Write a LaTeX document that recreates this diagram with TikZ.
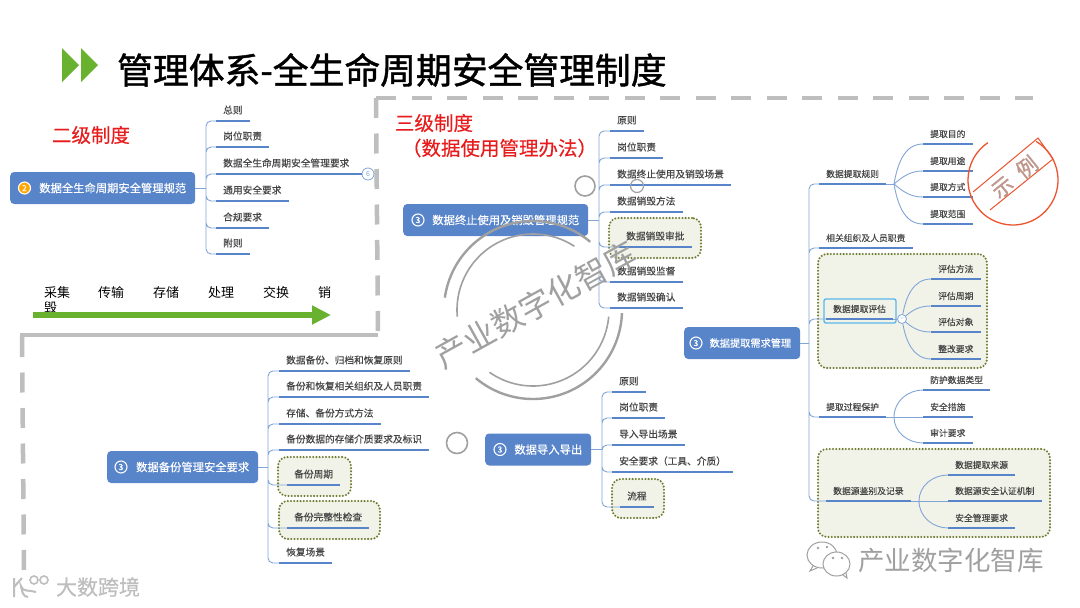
\documentclass[tikz,border=0pt]{standalone}
\usepackage{fontspec}
\setmainfont{Noto Sans CJK SC}
\newfontfamily\titlefont[FakeBold=1.2]{Noto Sans CJK SC}
\newfontfamily\labelfont[FakeBold=0.3]{Noto Sans CJK SC}
\usetikzlibrary{arrows.meta}
\definecolor{nodeblue}{RGB}{88,132,202}
\definecolor{linkblue}{RGB}{130,165,215}
\definecolor{leafgray}{RGB}{70,70,70}
\definecolor{framegray}{RGB}{190,190,190}
\definecolor{markgray}{RGB}{160,160,160}
\definecolor{arrowgreen}{RGB}{104,178,48}
\definecolor{titlered}{RGB}{232,28,28}
\definecolor{stampred}{RGB}{236,84,48}
\definecolor{stampgray}{RGB}{190,150,140}
\definecolor{boxfill}{RGB}{241,243,232}
\definecolor{boxdot}{RGB}{112,124,50}
\definecolor{pickcyan}{RGB}{90,185,235}
\tikzset{
  rootbox/.style={anchor=west, fill=nodeblue, rounded corners=4pt, text=white, align=right, inner xsep=9pt,
    minimum height=32pt, font=\labelfont\fontsize{11.3}{12}\selectfont},
  badge/.style={circle, draw=white, line width=1.1pt, inner sep=0pt, minimum size=12pt, text=white,
    font=\labelfont\fontsize{8.5}{8.5}\selectfont},
  uline/.style={draw=nodeblue, line width=1.9pt},
  leaf/.style={anchor=south west, inner xsep=7pt, inner ysep=5.6pt, text height=8.5pt, text depth=1.5pt,
    text=leafgray, font=\labelfont\fontsize{9.7}{10}\selectfont,
    append after command={(\tikzlastnode.south west) edge[uline] (\tikzlastnode.south east)}},
  subleaf/.style={leaf, inner ysep=5pt, font=\labelfont\fontsize{8.8}{10}\selectfont},
  conn/.style={draw=linkblue, line width=0.9pt},
  trunk/.style={conn, rounded corners=5pt},
  dotbox/.style={draw=boxdot, fill=boxfill, line width=2.3pt, line cap=round, dash pattern=on 0pt off 3.2pt,
    rounded corners=9pt, inner sep=0pt},
  dashframe/.style={draw=framegray, line width=4.5pt, dash pattern=on 20pt off 15.5pt},
  steplabel/.style={text=black, font=\fontsize{13}{14}\selectfont},
  redlabel/.style={text=titlered, font=\labelfont\fontsize{19.5}{20}\selectfont},
  ring/.style={draw=markgray, line width=1.6pt}
}
\begin{document}
\begin{tikzpicture}[x=1pt, y=-1pt]
    \useasboundingbox[fill=white] (0,0) rectangle (1080,608);

    % title
    \fill[arrowgreen] (62,48) -- (79,65) -- (62,82) -- cycle;
    \fill[arrowgreen] (81,48) -- (98,65) -- (81,82) -- cycle;
    \node[anchor=west, inner sep=0pt, font=\titlefont\fontsize{35.8}{36}\selectfont] (title) at (117,70) {管理体系-全生命周期安全管理制度};

    % frame
    \draw[dashframe] (376,98) -- (1033,98);
    \draw[dashframe] (376,98) -- (378,335);
    \draw[draw=framegray, line width=4.5pt] (378,335) -- (20,335);
    \draw[dashframe] (22,337) -- (24,570);

    \node[redlabel] (level2) at (91,135) {二级制度};
    \node[redlabel] (level3) at (434,123) {三级制度};
    \node[redlabel] (level3b) at (499.5,148) {（数据使用管理办法）};

    % second level
    \node[rootbox, text width=167pt] (spec) at (10,188) {数据全生命周期安全管理规范};
    \node[badge, fill=orange!70!yellow] (specN) at (24.5,188) {2};
    \coordinate (specJ) at (206,188);
    \node[leaf] (specA) at (216,121) {总则};
    \node[leaf] (specB) at (216,147) {岗位职责};
    \node[leaf] (specC) at (216,174) {数据全生命周期安全管理要求};
    \node[leaf] (specD) at (216,201) {通用安全要求};
    \node[leaf] (specE) at (216,228) {合规要求};
    \node[leaf] (specF) at (216,254) {附则};
    \draw[conn] (spec.east) -- (specJ);
    \draw[trunk] (specJ) |- (specA.south west) (specJ) |- (specB.south west) (specJ) |- (specC.south west)
        (specJ) |- (specD.south west) (specJ) |- (specE.south west) (specJ) |- (specF.south west);
    \node[circle, draw=linkblue, fill=white, line width=0.8pt, inner sep=0pt, minimum size=12pt, text=linkblue,
        font=\fontsize{7}{8}\selectfont] (specMore) at (368,174) {6};
    \draw[uline] (specC.south east) -- (specMore);

    % life cycle arrow
    \node[steplabel] (stepA) at (57,293) {采集};
    \node[steplabel] (stepB) at (111,293) {传输};
    \node[steplabel] (stepC) at (166,293) {存储};
    \node[steplabel] (stepD) at (221,293) {处理};
    \node[steplabel] (stepE) at (276,293) {交换};
    \node[steplabel] (stepF) at (324.5,293) {销};
    \node[steplabel] (stepG) at (50.5,308) {毁};
    \coordinate (lifeS) at (33,315);
    \coordinate (lifeE) at (331,315);
    \draw[draw=arrowgreen, line width=6pt, -{Triangle[length=19pt,width=18pt]}] (lifeS) -- (lifeE);

    % stop using
    \node[dotbox, minimum width=92pt, minimum height=40pt] (stopBox) at (655,238) {};
    \node[rootbox, text width=167pt] (stop) at (403,220) {数据终止使用及销毁管理规范};
    \node[badge] (stopN) at (418,220) {3};
    \coordinate (stopJ) at (599,220);
    \node[leaf] (stopA) at (610,131) {原则};
    \node[leaf] (stopB) at (610,158) {岗位职责};
    \node[leaf] (stopC) at (610,185) {数据终止使用及销毁场景};
    \node[leaf] (stopD) at (610,212) {数据销毁方法};
    \node[leaf] (stopE) at (619,247) {数据销毁审批};
    \node[leaf] (stopF) at (610,282) {数据销毁监督};
    \node[leaf] (stopG) at (610,308) {数据销毁确认};
    \draw[conn] (stop.east) -- (stopJ);
    \draw[trunk] (stopJ) |- (stopA.south west) (stopJ) |- (stopB.south west) (stopJ) |- (stopC.south west)
        (stopJ) |- (stopD.south west) (stopJ) |- (stopE.south west) (stopJ) |- (stopF.south west) (stopJ) |- (stopG.south west);
    \node[circle, ring, minimum size=20pt, inner sep=0pt] (stopO) at (585,186) {};
    \node[circle, ring, line width=1.2pt, minimum size=13pt, inner sep=0pt] (stopP) at (637,186) {};

    % backup
    \node[dotbox, minimum width=73pt, minimum height=39pt] (backBoxA) at (314.5,476.5) {};
    \node[dotbox, minimum width=101pt, minimum height=38pt] (backBoxB) at (329.5,520) {};
    \node[rootbox, text width=133pt] (back) at (107,467) {数据备份管理安全要求};
    \node[badge] (backN) at (121,467) {3};
    \coordinate (backJ) at (268,467);
    \node[leaf] (backA) at (279,371) {数据备份、归档和恢复原则};
    \node[leaf] (backB) at (279,397) {备份和恢复相关组织及人员职责};
    \node[leaf] (backC) at (279,424) {存储、备份方式方法};
    \node[leaf] (backD) at (279,450) {备份数据的存储介质要求及标识};
    \node[leaf] (backE) at (287,485) {备份周期};
    \node[leaf] (backF) at (287,528) {备份完整性检查};
    \node[leaf] (backG) at (279,563) {恢复场景};
    \draw[conn] (back.east) -- (backJ);
    \draw[trunk] (backJ) |- (backA.south west) (backJ) |- (backB.south west) (backJ) |- (backC.south west)
        (backJ) |- (backD.south west) (backJ) |- (backE.south west) (backJ) |- (backF.south west) (backJ) |- (backG.south west);
    \node[circle, ring, minimum size=21pt, inner sep=0pt] (backO) at (457,443) {};

    % import and export
    \node[dotbox, minimum width=52pt, minimum height=39pt] (portBox) at (638,498.5) {};
    \node[rootbox, text width=88pt] (port) at (485,449.5) {数据导入导出};
    \node[badge] (portN) at (500,449.5) {3};
    \coordinate (portJ) at (602,449.5);
    \node[leaf] (portA) at (612,392) {原则};
    \node[leaf] (portB) at (612,418) {岗位职责};
    \node[leaf] (portC) at (612,445) {导入导出场景};
    \node[leaf] (portD) at (612,472) {安全要求（工具、介质）};
    \node[leaf] (portE) at (620,507) {流程};
    \draw[conn] (port.east) -- (portJ);
    \draw[trunk] (portJ) |- (portA.south west) (portJ) |- (portB.south west) (portJ) |- (portC.south west)
        (portJ) |- (portD.south west) (portJ) |- (portE.south west);

    % extraction
    \node[dotbox, minimum width=169pt, minimum height=114pt] (evalBox) at (902.5,311) {};
    \node[dotbox, minimum width=232pt, minimum height=88pt] (srcBox) at (934,493) {};
    \node[rootbox, text width=98pt, font=\labelfont\fontsize{10.2}{12}\selectfont] (need) at (684,343) {数据提取需求管理};
    \node[badge] (needN) at (696,343) {3};
    \coordinate (needJ) at (809,343);
    \node[subleaf] (rule) at (819,184) {数据提取规则};
    \node[subleaf] (duty) at (819,248) {相关组织及人员职责};
    \node[subleaf] (eval) at (826,319) {数据提取评估};
    \node[subleaf] (prot) at (819,417) {提取过程保护};
    \node[subleaf] (src) at (826,501) {数据源鉴别及记录};
    \draw[conn] (need.east) -- (needJ);
    \draw[trunk] (needJ) |- (rule.south west) (needJ) |- (duty.south west) (needJ) |- (eval.south west)
        (needJ) |- (prot.south west) (needJ) |- (src.south west);
    \node[draw=pickcyan, line width=1.4pt, rounded corners=2pt, minimum width=72pt, minimum height=24pt] (evalFrame) at (860,311) {};

    \coordinate (ruleJ) at (894,184);
    \node[subleaf] (ruleA) at (923,144) {提取目的};
    \node[subleaf] (ruleB) at (923,171) {提取用途};
    \node[subleaf] (ruleC) at (923,197) {提取方式};
    \node[subleaf] (ruleD) at (923,224) {提取范围};
    \draw[conn] (rule.south east) -- (ruleJ);
    \draw[conn] (ruleJ) to[out=80, in=180] (ruleA.south west);
    \draw[conn] (ruleJ) to[out=40, in=180] (ruleB.south west);
    \draw[conn] (ruleJ) to[out=-40, in=180] (ruleC.south west);
    \draw[conn] (ruleJ) to[out=-80, in=180] (ruleD.south west);

    \node[circle, draw=linkblue, fill=white, line width=0.8pt, inner sep=0pt, minimum size=9pt, font=\fontsize{7}{7}\selectfont, text=linkblue] (evalJ) at (902,319) {–};
    \node[subleaf] (evalA) at (931,279) {评估方法};
    \node[subleaf] (evalB) at (931,306) {评估周期};
    \node[subleaf] (evalC) at (931,332) {评估对象};
    \node[subleaf] (evalD) at (931,359) {整改要求};
    \draw[conn] (eval.south east) -- (evalJ);
    \draw[conn] (evalJ) to[out=80, in=180] (evalA.south west);
    \draw[conn] (evalJ) to[out=40, in=180] (evalB.south west);
    \draw[conn] (evalJ) to[out=-40, in=180] (evalC.south west);
    \draw[conn] (evalJ) to[out=-80, in=180] (evalD.south west);

    \coordinate (protJ) at (894,417);
    \node[subleaf] (protA) at (923,390) {防护数据类型};
    \node[subleaf] (protB) at (923,417) {安全措施};
    \node[subleaf] (protC) at (923,443) {审计要求};
    \draw[conn] (prot.south east) -- (protB.south west);
    \draw[conn] (protJ) to[out=90, in=180] (protA.south west);
    \draw[conn] (protJ) to[out=-90, in=180] (protC.south west);

    \coordinate (srcJ) at (919,501);
    \node[subleaf] (srcA) at (948,475) {数据提取来源};
    \node[subleaf] (srcB) at (948,501) {数据源安全认证机制};
    \node[subleaf] (srcC) at (948,528) {安全管理要求};
    \draw[conn] (src.south east) -- (srcB.south west);
    \draw[conn] (srcJ) to[out=90, in=180] (srcA.south west);
    \draw[conn] (srcJ) to[out=-90, in=180] (srcC.south west);

    % stamp
    \fill[white] (973,192) -- (1038,138) -- (1053,159) -- (990,210) -- cycle;
    \draw[stampred, line width=1.3pt] (1013,180) ++(301:45) arc (301:596:45);
    \draw[stampred, line width=1pt] (973,192) -- (1038,138) -- (1053,159);
    \draw[stampred, line width=1pt] (990,210) -- (1053,159);
    \node[rotate=39, text=stampgray, font=\titlefont\fontsize{21}{22}\selectfont] (stamp) at (1014.5,177) {示\hspace{0.5em}例};

    % watermark
    \draw[ring, line width=2.4pt] (533,310) ++(-50:89) arc (-50:-172:89);
    \draw[ring, line width=2.4pt] (533,310) ++(130:89) arc (130:2:89);
    \draw[ring] (533,310) ++(-57:76) arc (-57:-185:76);
    \draw[ring] (533,310) ++(125:76) arc (125:5:76);
    \node[rotate=29, text=markgray, font=\fontsize{32}{33}\selectfont] (mark) at (536,305) {产业数字化智库};

    % footer
    \node[text=markgray, font=\fontsize{26.5}{28}\selectfont] (wechat) at (951,560) {产业数字化智库};
    \draw[markgray, line width=1pt] (822,555) ellipse [x radius=15, y radius=13];
    \draw[markgray, line width=1pt] (813,566) -- (810,571) -- (817,568);
    \draw[markgray, line width=1pt, fill=white] (836.5,564) ellipse [x radius=13.5, y radius=12];
    \draw[markgray, line width=1pt] (843,575) -- (847,578) -- (846,573);
    \fill[markgray] (818,548) circle [radius=1.3] (827,547) circle [radius=1.3] (833,558) circle [radius=1.3] (842,558) circle [radius=1.3];
    \node[text=framegray, font=\labelfont\fontsize{21}{22}\selectfont] (brand) at (98,587) {大数跨境};
    \draw[framegray, line width=2pt] (14,578) -- (14,597) (14,587) -- (22,578);
    \draw[framegray, line width=2pt] (36,592) to[out=160, in=-80] (21,586) to[out=-80, in=180] (28,597);
    \draw[framegray, line width=1.6pt] (34,580) circle [radius=4] (44,580) circle [radius=4];
\end{tikzpicture}
\end{document}
